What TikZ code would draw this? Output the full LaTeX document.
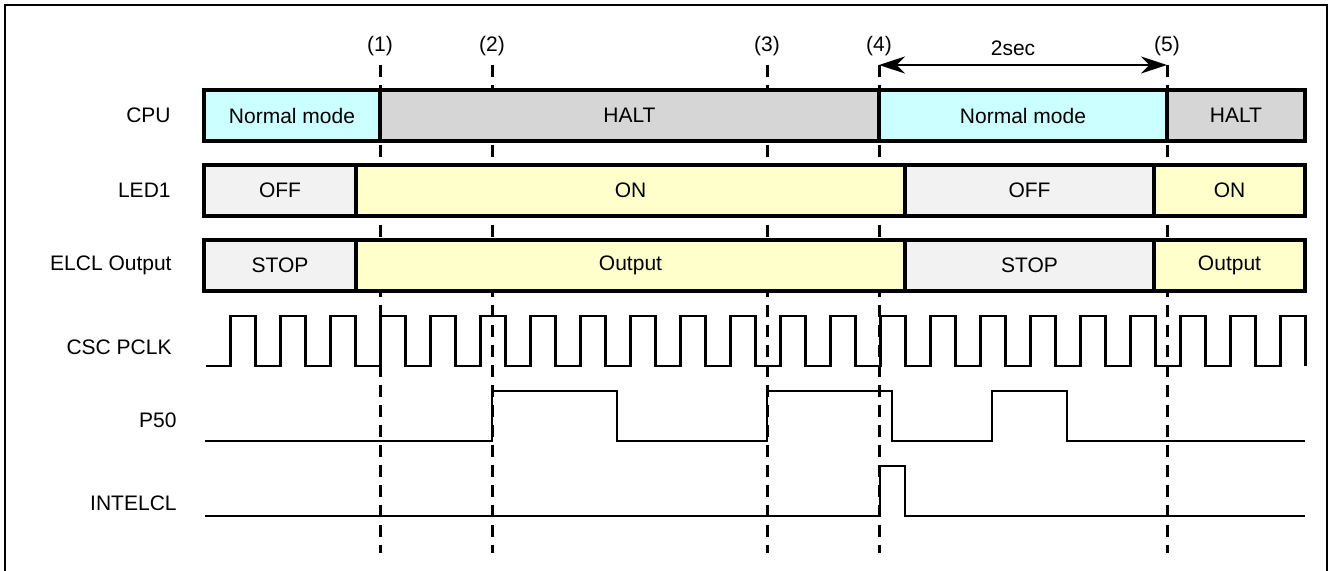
\documentclass[tikz,border=0pt]{standalone}
\usepackage{fontspec}
\setmainfont{Liberation Sans}
\usepackage{xcolor}
\definecolor{runcyan}{HTML}{CCFFFF}
\definecolor{haltgray}{HTML}{D6D6D6}
\definecolor{offgray}{HTML}{F2F2F2}
\definecolor{onyellow}{HTML}{FFFFCC}
\usepackage{tikz}
\usetikzlibrary{positioning,arrows.meta}
\newcommand{\tdfont}{\fontsize{10.5}{12.6}\selectfont}
\tikzset{
  seg/.style    ={draw=black, line width=1.6pt, minimum height=25.5pt, inner sep=0pt,
                  outer sep=0pt, anchor=west, align=center, font=\tdfont},
  segrun/.style ={seg, fill=runcyan},
  seghalt/.style={seg, fill=haltgray},
  segoff/.style ={seg, fill=offgray},
  segon/.style  ={seg, fill=onyellow},
  rowlbl/.style ={anchor=east, inner sep=0pt, font=\tdfont},
  evlbl/.style  ={inner sep=0pt, font=\tdfont},
  evline/.style ={line width=1.5pt, dash pattern=on 6pt off 4pt},
  wave/.style   ={line width=1.4pt, line join=miter},
  dimarr/.style ={{Stealth[length=13pt,width=8.5pt]}-{Stealth[length=13pt,width=8.5pt]}, line width=1.1pt},
}

\begin{document}
\begin{tikzpicture}[x=0.5pt, y=-0.5pt]
  \useasboundingbox (0,0) rectangle (1330,571);
  \draw[line width=1.2pt] (5,571) -- (5,5) -- (1327,5) -- (1327,571);

  % event markers, behind the bars
  \foreach \x/\n in {380/1, 492/2, 767/3, 879/4, 1167/5} {
    \coordinate (t\n) at (\x,65);
    \coordinate (b\n) at (\x,553);
    \node[evlbl] (e\n) at (\x,46) {(\n)};
    \draw[evline] (t\n) -- (b\n);
  }
  \draw[dimarr] (t4) -- (t5);
  \node[evlbl] (dt) at (1013,48) {2sec};

  % row labels
  \node[rowlbl] (lcpu)  at (171,115.5) {CPU};
  \node[rowlbl] (lled)  at (171,190.5) {LED1};
  \node[rowlbl] (lelc)  at (172,265.5) {ELCL Output};
  \node[rowlbl] (lclk)  at (172,347)   {CSC PCLK};
  \node[rowlbl] (lp50)  at (177,420)   {P50};
  \node[rowlbl] (lint)  at (177,503)   {INTELCL};

  % CPU
  \node[segrun,  minimum width=88pt] (cpu1) at (204,115.5) {Normal mode};
  \node[seghalt, minimum width=249.5pt, right=0pt of cpu1] (cpu2) {HALT};
  \node[segrun,  minimum width=144pt,   right=0pt of cpu2] (cpu3) {Normal mode};
  \node[seghalt, minimum width=69pt,    right=0pt of cpu3] (cpu4) {HALT};

  % LED1
  \node[segoff, minimum width=76pt] (led1) at (204,190.5) {OFF};
  \node[segon,  minimum width=274.5pt, right=0pt of led1] (led2) {ON};
  \node[segoff, minimum width=124.5pt, right=0pt of led2] (led3) {OFF};
  \node[segon,  minimum width=75.5pt,  right=0pt of led3] (led4) {ON};

  % ELCL output
  \node[segoff, minimum width=76pt] (elc1) at (204,265.5) {STOP};
  \node[segon,  minimum width=274.5pt, right=0pt of elc1] (elc2) {Output};
  \node[segoff, minimum width=124.5pt, right=0pt of elc2] (elc3) {STOP};
  \node[segon,  minimum width=75.5pt,  right=0pt of elc3] (elc4) {Output};

  % waveforms
  \draw[wave] (205.5,366) \foreach \k in {1,...,22} { -- ++(25,0) -- ++(0,-50) -- ++(25,0) -- ++(0,50) };
  \draw[wave] (205,441) -- (492,441) -- (492,391) -- (617,391) -- (617,441) -- (767,441)
              -- (767,391) -- (892,391) -- (892,441) -- (992,441) -- (992,391) -- (1067,391)
              -- (1067,441) -- (1305,441);
  \draw[wave] (205,516) -- (880,516) -- (880,466) -- (905,466) -- (905,516) -- (1305,516);
\end{tikzpicture}
\end{document}
